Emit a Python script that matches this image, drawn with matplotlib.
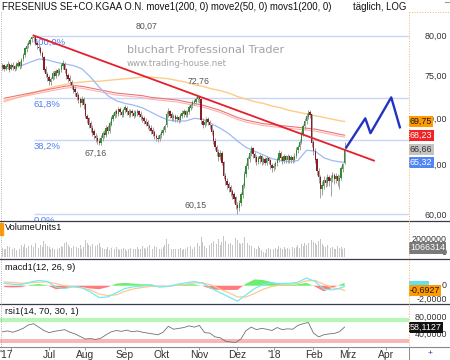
import matplotlib
matplotlib.use('Agg')
import matplotlib.pyplot as plt
import matplotlib.patheffects as pe
from matplotlib.lines import Line2D
from matplotlib.patches import Rectangle
from matplotlib.transforms import blended_transform_factory, ScaledTranslation
import numpy as np
import pandas as pd

plt.rcParams['font.family'] = ['Liberation Sans', 'DejaVu Sans']

# ---------------- data ----------------
first_day = '2017-05-25'

open_ = [
    76.0, 76.3, 75.9, 76.1, 76.4, 75.9, 76.3, 76.2, 75.9, 76.3,
    76.7, 76.2, 77.1, 77.6, 78.3, 78.8, 79.0, 79.6, 79.7, 79.8,
    79.1, 78.6, 78.4, 77.8, 77.3, 75.9, 75.2, 74.9, 74.3, 74.7,
    75.4, 75.0, 75.7, 75.3, 75.8, 76.2, 76.5, 75.8, 75.1, 74.8,
    74.3, 73.8, 73.5, 73.0, 72.7, 72.3, 71.9, 72.3, 71.7, 70.3,
    70.1, 69.5, 69.0, 68.6, 68.1, 67.9, 67.6, 67.4, 67.9, 68.4,
    68.2, 69.1, 68.7, 69.4, 70.0, 70.4, 70.9, 70.6, 71.1, 70.8,
    70.5, 71.0, 71.2, 70.9, 70.5, 70.9, 70.7, 70.4, 70.7, 70.9,
    70.6, 70.2, 70.1, 69.8, 69.6, 69.2, 69.0, 68.8, 68.5, 68.1,
    67.9, 67.8, 68.2, 68.5, 68.8, 69.3, 70.6, 70.9, 70.5, 70.1,
    70.3, 70.0, 70.2, 69.9, 70.4, 70.6, 70.9, 70.5, 70.8, 71.3,
    71.6, 71.9, 72.0, 72.3, 72.6, 72.3, 69.8, 69.4, 69.6, 70.0,
    69.7, 69.3, 68.7, 67.6, 66.9, 66.4, 65.9, 66.3, 65.3, 63.9,
    63.4, 63.0, 62.7, 62.3, 62.0, 61.7, 61.0, 60.7, 61.2, 62.0,
    62.9, 64.1, 64.9, 65.7, 66.3, 66.8, 66.2, 65.8, 65.4, 65.7,
    65.9, 65.4, 65.6, 65.3, 65.7, 65.5, 65.0, 64.7, 64.9, 65.2,
    65.6, 66.3, 65.8, 65.5, 65.9, 65.6, 65.9, 65.6, 65.8, 65.6,
    66.0, 66.6, 66.9, 67.5, 68.4, 69.2, 69.8, 70.3, 70.8, 70.5,
    67.4, 66.5, 65.6, 64.4, 63.8, 62.6, 62.9, 63.5, 63.2, 63.8,
    63.4, 63.7, 64.0, 63.6, 63.9, 63.4, 63.7, 64.6, 65.3,
]
high = [
    76.6, 76.5, 76.5, 76.8, 76.6, 76.6, 76.7, 76.4, 76.7, 77.0,
    76.9, 77.2, 77.9, 78.6, 79.1, 79.4, 79.8, 80.0, 80.07, 79.9,
    79.4, 79.0, 78.7, 78.1, 77.5, 76.2, 75.5, 75.1, 74.9, 75.6,
    75.7, 75.9, 76.0, 76.0, 76.6, 77.0, 76.7, 76.0, 75.4, 75.1,
    74.6, 74.1, 73.8, 73.3, 73.0, 72.6, 72.7, 72.5, 71.9, 70.6,
    70.3, 69.8, 69.3, 68.9, 68.5, 68.2, 67.9, 68.2, 68.7, 68.8,
    69.3, 69.4, 69.8, 70.4, 70.7, 71.1, 71.2, 71.4, 71.4, 71.1,
    71.3, 71.6, 71.5, 71.2, 71.2, 71.2, 71.0, 71.1, 71.2, 71.1,
    70.9, 70.5, 70.4, 70.1, 69.9, 69.5, 69.3, 69.1, 68.8, 68.4,
    68.2, 68.5, 68.8, 69.1, 69.5, 70.9, 71.3, 71.1, 70.8, 70.6,
    70.6, 70.5, 70.4, 70.7, 71.0, 71.2, 71.1, 71.1, 71.6, 71.9,
    72.2, 72.3, 72.5, 72.76, 72.7, 72.4, 70.1, 70.0, 70.3, 70.2,
    69.9, 69.5, 68.9, 67.9, 67.2, 66.7, 66.6, 66.5, 65.5, 64.2,
    63.7, 63.3, 63.0, 62.6, 62.3, 61.9, 61.3, 61.5, 62.3, 63.2,
    64.4, 65.2, 66.0, 66.6, 67.1, 67.0, 66.4, 66.1, 66.0, 66.2,
    66.1, 65.9, 65.9, 66.0, 65.9, 65.7, 65.2, 65.2, 65.5, 65.9,
    66.6, 66.5, 66.0, 66.2, 66.1, 66.2, 66.1, 66.1, 66.0, 66.3,
    66.9, 67.2, 67.8, 68.7, 69.5, 70.1, 70.7, 71.1, 71.0, 70.6,
    67.7, 66.8, 65.8, 64.7, 64.0, 63.4, 63.9, 63.8, 64.1, 64.0,
    64.0, 64.3, 64.2, 64.2, 64.1, 64.0, 64.9, 65.3, 67.5,
]
low = [
    75.7, 75.6, 75.7, 75.9, 75.5, 75.7, 75.8, 75.6, 75.7, 76.1,
    75.9, 76.0, 76.9, 77.4, 78.0, 78.5, 78.8, 79.3, 79.3, 78.8,
    78.4, 78.1, 77.6, 77.0, 75.5, 74.9, 74.4, 73.9, 74.0, 74.5,
    74.7, 74.8, 75.0, 75.1, 75.5, 75.9, 75.4, 74.7, 74.3, 74.0,
    73.5, 73.0, 72.7, 72.2, 71.9, 71.4, 71.6, 71.2, 70.1, 69.6,
    69.0, 68.6, 68.1, 67.8, 67.5, 67.3, 67.16, 67.2, 67.6, 67.9,
    68.0, 68.4, 68.5, 69.2, 69.8, 70.1, 70.3, 70.4, 70.5, 70.2,
    70.3, 70.7, 70.5, 70.2, 70.3, 70.4, 70.1, 70.2, 70.4, 70.2,
    69.9, 69.7, 69.5, 69.2, 68.9, 68.7, 68.4, 68.1, 67.8, 67.6,
    67.5, 67.6, 67.9, 68.2, 68.6, 69.1, 70.3, 70.1, 69.8, 69.8,
    69.7, 69.7, 69.6, 69.7, 70.1, 70.3, 70.2, 70.3, 70.6, 71.0,
    71.3, 71.6, 71.7, 72.0, 71.9, 69.5, 69.0, 69.1, 69.3, 69.3,
    68.9, 68.3, 67.3, 66.6, 66.0, 65.5, 65.6, 65.0, 63.6, 63.0,
    62.6, 62.3, 61.9, 61.6, 61.2, 60.6, 60.15, 60.4, 60.9, 61.7,
    62.7, 63.8, 64.6, 65.4, 66.0, 65.8, 65.4, 65.0, 65.1, 65.3,
    65.0, 65.1, 65.0, 65.0, 65.1, 64.6, 64.3, 64.4, 64.6, 64.9,
    65.4, 65.5, 65.1, 65.2, 65.3, 65.3, 65.3, 65.3, 65.3, 65.4,
    65.8, 66.3, 66.6, 67.3, 68.1, 68.9, 69.5, 70.0, 70.1, 67.0,
    66.1, 65.2, 64.0, 63.2, 61.7, 62.0, 62.6, 62.8, 62.9, 62.9,
    61.9, 63.3, 63.1, 63.2, 62.9, 62.6, 63.5, 64.3, 65.1,
]
close = [
    76.3, 75.9, 76.2, 76.4, 75.8, 76.3, 76.1, 75.9, 76.4, 76.6,
    76.2, 77.0, 77.6, 78.4, 78.7, 79.1, 79.5, 79.8, 79.9, 79.0,
    78.8, 78.5, 77.9, 77.4, 75.8, 75.3, 74.9, 74.4, 74.6, 75.3,
    75.0, 75.6, 75.4, 75.7, 76.3, 76.6, 75.7, 75.0, 74.7, 74.4,
    73.9, 73.4, 73.1, 72.6, 72.2, 71.9, 72.3, 71.6, 70.4, 70.0,
    69.4, 69.0, 68.5, 68.2, 67.9, 67.6, 67.4, 67.9, 68.4, 68.2,
    69.0, 68.7, 69.5, 70.1, 70.4, 70.8, 70.6, 71.1, 70.8, 70.5,
    71.0, 71.3, 70.8, 70.5, 70.9, 70.7, 70.4, 70.8, 70.9, 70.5,
    70.2, 70.0, 69.8, 69.5, 69.2, 69.0, 68.7, 68.4, 68.1, 67.9,
    67.8, 68.2, 68.5, 68.8, 69.2, 70.6, 70.9, 70.4, 70.1, 70.3,
    70.0, 70.2, 69.9, 70.4, 70.7, 70.9, 70.5, 70.8, 71.3, 71.6,
    71.9, 72.0, 72.3, 72.6, 72.3, 69.9, 69.4, 69.6, 70.0, 69.7,
    69.3, 68.6, 67.6, 66.9, 66.4, 65.9, 66.3, 65.3, 63.9, 63.4,
    63.0, 62.7, 62.3, 62.0, 61.6, 61.0, 60.7, 61.2, 62.0, 62.9,
    64.1, 64.9, 65.7, 66.3, 66.8, 66.2, 65.8, 65.4, 65.7, 65.9,
    65.4, 65.6, 65.3, 65.7, 65.5, 65.0, 64.7, 64.9, 65.2, 65.6,
    66.3, 65.8, 65.5, 65.9, 65.6, 65.9, 65.6, 65.8, 65.6, 66.0,
    66.6, 66.9, 67.5, 68.4, 69.2, 69.8, 70.3, 70.7, 70.5, 67.4,
    66.5, 65.6, 64.4, 63.8, 62.6, 62.9, 63.5, 63.2, 63.8, 63.4,
    63.7, 64.0, 63.6, 63.9, 63.4, 63.7, 64.7, 65.1, 66.66,
]
# volume in million shares
volume = [
    1.1, 0.9, 1.0, 1.3, 1.2, 0.9, 1.0, 1.1, 0.8, 1.2,
    1.0, 1.4, 1.2, 1.5, 1.1, 1.3, 2.2, 1.4, 1.2, 1.6,
    1.3, 1.1, 1.4, 1.2, 1.9, 1.5, 1.3, 1.2, 1.0, 1.1,
    0.9, 1.2, 1.0, 1.1, 1.3, 1.2, 1.6, 1.8, 1.4, 1.2,
    1.1, 1.3, 1.0, 1.2, 1.1, 1.4, 1.0, 1.2, 2.0, 1.6,
    1.4, 1.3, 1.5, 1.2, 1.3, 1.4, 1.6, 1.2, 1.1, 0.9,
    1.0, 1.2, 0.8, 1.1, 1.0, 0.9, 1.2, 1.0, 0.8, 0.9,
    1.1, 1.0, 0.7, 0.9, 1.1, 0.8, 1.0, 0.9, 1.2, 1.0,
    0.9, 1.3, 1.1, 1.0, 1.2, 1.4, 1.1, 1.0, 1.3, 1.2,
    1.1, 1.0, 0.9, 1.2, 1.4, 2.1, 1.5, 1.1, 1.0, 0.9,
    1.0, 0.8, 0.9, 1.1, 0.8, 1.0, 0.9, 1.2, 1.1, 1.3,
    1.0, 1.2, 1.4, 1.6, 1.3, 2.4, 1.8, 1.3, 1.1, 1.2,
    1.4, 1.6, 1.9, 1.7, 1.5, 2.1, 1.4, 1.8, 2.5, 1.9,
    1.7, 1.5, 1.6, 1.4, 1.8, 2.2, 2.0, 1.6, 1.5, 1.7,
    2.3, 1.9, 1.6, 1.4, 1.3, 1.2, 1.1, 1.0, 1.3, 1.1,
    0.8, 0.6, 0.5, 0.9, 1.1, 1.0, 1.2, 0.9, 1.1, 1.0,
    1.3, 1.1, 1.0, 1.2, 0.9, 1.1, 1.0, 0.9, 1.2, 1.1,
    1.2, 1.4, 1.1, 1.5, 1.3, 1.6, 1.4, 1.7, 2.3, 2.0,
    1.8, 1.6, 1.4, 1.9, 2.1, 1.5, 1.3, 1.2, 1.4, 1.0,
    1.1, 1.2, 0.9, 1.0, 1.3, 1.1, 1.2, 0.9, 1.066314,
]

# weekly readings (Fridays) plus the last trading day
knot_days = list(pd.date_range('2017-05-26', '2018-02-23', freq='W-FRI')) + [pd.Timestamp('2018-02-27')]
movs1 = [72.0, 72.3, 72.6, 72.9, 73.2, 73.5, 73.8, 74.0, 74.2, 74.3,
         74.4, 74.4, 74.5, 74.6, 74.7, 74.8, 74.9, 74.9, 74.8, 74.7,
         74.5, 74.3, 74.0, 73.8, 73.5, 73.3, 73.0, 72.6, 72.3, 72.0,
         71.8, 71.5, 71.3, 71.0, 70.8, 70.6, 70.4, 70.2, 70.0, 69.8, 69.75]
move1 = [72.4, 72.6, 72.8, 73.0, 73.2, 73.4, 73.6, 73.8, 73.9, 73.8,
         73.6, 73.4, 73.2, 73.0, 72.9, 72.8, 72.7, 72.5, 72.4, 72.3,
         72.2, 72.0, 71.8, 71.6, 71.3, 71.0, 70.6, 70.2, 69.9, 69.7,
         69.5, 69.4, 69.3, 69.2, 69.1, 69.0, 68.9, 68.7, 68.5, 68.3, 68.23]
move2 = [75.9, 76.1, 76.3, 76.7, 77.1, 77.0, 76.7, 76.5, 76.3, 75.9,
         74.9, 73.7, 72.7, 72.1, 71.8, 71.6, 71.3, 70.8, 70.3, 69.9,
         69.8, 69.8, 70.1, 70.0, 69.5, 69.0, 68.4, 67.6, 66.9, 66.5,
         66.1, 65.7, 65.5, 65.4, 65.5, 66.6, 66.5, 65.8, 65.5, 65.35, 65.32]
macd = [0.35, 0.2, 0.15, 0.5, 0.75, 0.6, -0.2, -0.4, -0.15, -0.3,
        -0.9, -1.7, -1.6, -1.0, -0.4, -0.15, -0.05, 0.1, -0.2, -0.1,
        0.2, 0.4, 0.6, 0.35, -0.4, -1.0, -1.6, -2.2, -1.3, -0.4,
        0.2, 0.4, 0.3, 0.35, 0.5, 1.1, 0.6, -0.5, -0.6, -0.3, -0.1]
signal = [0.55, 0.45, 0.35, 0.4, 0.5, 0.55, 0.3, 0.0, -0.15, -0.3,
          -0.6, -1.2, -1.4, -1.3, -0.8, -0.45, -0.25, -0.1, -0.1, -0.1,
          0.05, 0.2, 0.4, 0.4, 0.1, -0.5, -1.0, -1.6, -1.6, -1.1,
          -0.5, -0.1, 0.1, 0.2, 0.3, 0.7, 0.75, 0.2, -0.3, -0.5, -0.6927]
hist = [-0.2, -0.25, -0.2, 0.1, 0.25, 0.05, -0.5, -0.4, -0.1, -0.2,
        -0.4, -0.5, -0.2, 0.3, 0.4, 0.3, 0.2, 0.2, -0.1, 0.0,
        0.15, 0.2, 0.2, -0.05, -0.5, -0.6, -0.6, -0.6, 0.3, 0.9,
        0.8, 0.5, 0.2, 0.15, 0.2, 0.4, -0.15, -0.8, -0.3, 0.2, 0.4]
# RSI every third trading day
rsi = [47, 49, 46, 50, 55, 63, 66, 58, 50, 45,
       48, 50, 52, 46, 42, 36, 30, 31, 29, 32,
       40, 47, 50, 48, 51, 47, 49, 46, 44, 42,
       40, 46, 60, 53, 55, 57, 61, 58, 62, 45,
       44, 35, 33, 25, 23, 22, 30, 50, 58, 52,
       55, 53, 50, 57, 52, 54, 53, 62, 66, 69,
       44, 35, 40, 42, 43, 47, 58.1127]

trend_days = ['2017-06-20', '2018-03-22']
trend_vals = [80.07, 65.5]
forecast_days = ['2018-02-28', '2018-03-15', '2018-03-20', '2018-04-05', '2018-04-12']
forecast_vals = [66.9, 70.1, 68.45, 72.5, 69.1]

fib_high, fib_low = 80.07, 60.15
fib_ratios = [1.0, 0.618, 0.382, 0.0]
fib_labels = ['100,0%', '61,8%', '38,2%', '0,0%']
extremes = [('80,07', 80.07), ('72,76', 72.76), ('67,16', 67.16), ('60,15', 60.15)]
month_labels = ["'17", 'Jul', 'Aug', 'Sep', 'Okt', 'Nov', 'Dez', "'18", 'Feb', 'Mrz', 'Apr']

# ---------------- layout ----------------
W, H = 450, 360
cal = pd.bdate_range(first_day, '2018-04-30')


def pos(days):
    return cal.get_indexer(pd.DatetimeIndex(days))


def fx(px):
    return px / W


def fy(py):
    return 1 - py / H


def rect(y0, y1, x0=0.0, x1=408.5):
    return [fx(x0), fy(y1), fx(x1 - x0), (y1 - y0) / H]


def num(v, d=2):
    return f'{v:.{d}f}'.replace('.', ',')


fig = plt.figure(figsize=(W / 100, H / 100), dpi=100)
ax_p = fig.add_axes(rect(12, 221))
ax_v = fig.add_axes(rect(221, 259), sharex=ax_p)
ax_m = fig.add_axes(rect(259, 304), sharex=ax_p)
ax_r = fig.add_axes(rect(304, 347), sharex=ax_p)
for ax in (ax_p, ax_v, ax_m, ax_r):
    for s in ax.spines.values():
        s.set_visible(False)
    ax.tick_params(left=False, labelleft=False, bottom=False, labelbottom=False)
    ax.set_facecolor('white')

x = np.arange(len(close))
o, h, l, c = map(np.array, (open_, high, low, close))
xk = pos(knot_days)

# ---- price panel ----
ax_p.set_yscale('log')
ax_p.set_ylim(59.45, 83.15)
ax_p.yaxis.set_minor_locator(matplotlib.ticker.NullLocator())

x_hi = int(np.argmax(h))
below = ax_p.transData + ScaledTranslation(0, -2.5 / 100, fig.dpi_scale_trans)
for r, lab in zip(fib_ratios, fib_labels):
    lev = fib_low + r * (fib_high - fib_low)
    ax_p.hlines(lev, x_hi, 235, color='#c9d6fa', lw=1.0, zorder=1)
    ax_p.text(x_hi, lev, lab, transform=below, ha='left', va='top', fontsize=6.8,
              color='#4f7cf0', zorder=2, clip_on=True)

ax_p.plot(xk, movs1, color='#ffcb88', lw=1.0, zorder=2)
ax_p.plot(xk, move1, color='#f07272', lw=0.8, zorder=2,
          path_effects=[pe.SimpleLineShadow(offset=(0, -1.4), shadow_color='#ffb0b0', alpha=1.0),
                        pe.Normal()])
ax_p.plot(xk, move2, color='#9dbaf5', lw=0.9, zorder=2)

up = c >= o
ax_p.vlines(x, l, h, color='#a0a0a0', lw=0.7, zorder=3)
ax_p.bar(x[up], (c - o)[up] + 0.04, bottom=o[up], width=0.75, color='#2f8f2f', zorder=4)
ax_p.bar(x[~up], (o - c)[~up] + 0.04, bottom=c[~up], width=0.75, color='#8c1c24', zorder=4)

ax_p.plot(pos(trend_days), trend_vals, color='#e3202b', lw=1.3, zorder=5)
ax_p.plot(pos(forecast_days), forecast_vals, color='#2233c4', lw=1.7, zorder=5)

offsets = [(x_hi, (113, 9)), (int(np.argmax(h[100:130])) + 100, (1, 14)),
           (int(np.argmin(l[40:80])) + 40, (-4, -8)), (int(np.argmin(l)), (-42, 8))]
for (lab, v), (xi, off) in zip(extremes, offsets):
    ax_p.annotate(lab, (xi, v), xytext=off, textcoords='offset pixels',
                  ha='center', va='center', fontsize=6.3, color='#555555', zorder=6)

fig.text(fx(127), fy(50), 'bluchart Professional Trader', family='DejaVu Sans',
         fontsize=8.1, color='#a3a3a3', va='center', ha='left')
fig.text(fx(127), fy(63), 'www.trading-house.net', family='DejaVu Sans',
         fontsize=6.2, color='#a3a3a3', va='center', ha='left')

# ---- volume ----
ax_v.bar(x, volume, width=0.5, color='#c6c6c6')
ax_v.set_ylim(-0.235, 4.235)

# ---- macd ----
hist_a = np.array(hist)
ax_m.fill_between(xk, 0, hist_a, where=hist_a >= 0, interpolate=True, color='#6cee6c', lw=0)
ax_m.fill_between(xk, 0, hist_a, where=hist_a <= 0, interpolate=True, color='#ff7b7b', lw=0)
ax_m.plot(xk, signal, color='#ffc890', lw=0.9)
ax_m.plot(xk, macd, color='#70ecf2', lw=0.9)
ax_m.set_ylim(-2.61, 3.81)

# ---- rsi ----
ax_r.axhspan(70, 80, color='#b4f7b4', lw=0)
ax_r.axhspan(20, 30, color='#f9b6b6', lw=0)
ax_r.plot(x[::3], rsi, color='#707070', lw=0.6)
ax_r.set_ylim(11.2, 112.4)

month_pos = cal.searchsorted(pd.date_range('2017-06-01', '2018-04-01', freq='MS'))
ax_r.set_xticks(month_pos)
ax_r.set_xticklabels(month_labels)
ax_r.tick_params(axis='x', bottom=True, labelbottom=True, length=2, width=0.6,
                 color='#888888', labelsize=7.4, labelcolor='#333333', pad=0.5)
first_lab = ax_r.get_xticklabels()[0]
first_lab.set_transform(first_lab.get_transform() + ScaledTranslation(-4.5 / 100, 0, fig.dpi_scale_trans))
ax_p.set_xlim(-1.4, 235)

# ---- right-hand scale texts ----
xr = 447 / 408.5
xb = 410 / 408.5


def right_labels(ax, vals, texts):
    tr = blended_transform_factory(ax.transAxes, ax.transData)
    for v, t in zip(vals, texts):
        ax.text(xr, v, t, transform=tr, ha='right', va='center', fontsize=6.4,
                color='#333333', clip_on=False)


def value_box(ax, v, t, fc, tc):
    tr = blended_transform_factory(ax.transAxes, ax.transData)
    ax.text(xb, v, t, transform=tr, ha='left', va='center', fontsize=6.4, color=tc,
            clip_on=False, zorder=10,
            bbox=dict(boxstyle='square,pad=0.12', fc=fc, ec='none'))


right_labels(ax_p, [80, 75, 70, 65, 60], [num(v) for v in [80, 75, 70, 65, 60]])
value_box(ax_p, movs1[-1], num(movs1[-1]), '#ff9a00', '#1a1a1a')
value_box(ax_p, move1[-1], num(move1[-1]), '#f42323', 'white')
value_box(ax_p, close[-1], num(close[-1]), '#c4c4c4', '#333333')
value_box(ax_p, move2[-1], num(move2[-1]), '#4f86f7', 'white')

tr_v = blended_transform_factory(ax_v.transAxes, ax_v.transData)
ax_v.text(xr, 2.0, '2000000', transform=tr_v, ha='right', va='center', fontsize=6.4,
          color='#333333', clip_on=False)
ax_v.text(xr, 0, '0', transform=tr_v, ha='right', va='bottom', fontsize=6.4,
          color='#333333', clip_on=False)
value_box(ax_v, volume[-1], f'{round(volume[-1] * 1e6)}', '#7a7a7a', 'white')

right_labels(ax_m, [0, -2], ['0', num(-2, 4)])
value_box(ax_m, macd[-1], '       ', '#62e2ea', '#62e2ea')
value_box(ax_m, signal[-1], num(signal[-1], 4), '#ff9a00', '#1a1a1a')

right_labels(ax_r, [80, 40], [num(80, 4), num(40, 4)])
value_box(ax_r, rsi[-1], num(rsi[-1], 4), '#111111', 'white')

# ---- titles and frame ----
fig.text(fx(2), fy(6.5), 'FRESENIUS SE+CO.KGAA O.N. move1(200, 0) move2(50, 0) movs1(200, 0)',
         fontsize=6.9, color='#111111', va='center', ha='left')
fig.text(fx(353), fy(6.5), 'täglich, LOG', fontsize=6.9, color='#111111', va='center', ha='left')
fig.text(fx(5), fy(227), 'VolumeUnits1', fontsize=6.7, color='#111111', va='center')
fig.text(fx(5), fy(267), 'macd1(12, 26, 9)', fontsize=6.7, color='#111111', va='center')
fig.text(fx(5), fy(312), 'rsi1(14, 70, 30, 1)', fontsize=6.7, color='#111111', va='center')

for yy in (221, 259, 304):
    fig.add_artist(Line2D([0, 1], [fy(yy)] * 2, color='#3a3a48', lw=0.9))
fig.add_artist(Line2D([0, 1], [fy(347)] * 2, color='#8a8a8a', lw=0.8))
fig.add_artist(Line2D([fx(408.5)] * 2, [fy(12), fy(347)], color='#f0b45a', lw=0.7, ls=':'))
fig.add_artist(Line2D([fx(408.5), 1], [fy(12)] * 2, color='#f0b45a', lw=0.7, ls=':'))
fig.add_artist(Line2D([fx(408.5)] * 2, [fy(347), 0], color='#8a8a8a', lw=0.7))
fig.add_artist(Line2D([fx(0.8)] * 2, [fy(12), fy(347)], color='#9a9a9a', lw=0.6, ls=':'))
fig.add_artist(Line2D([fx(445), 1], [fy(2)] * 2, color='#9a9a9a', lw=0.8))
fig.add_artist(Rectangle((0, fy(235)), fx(2.5), 12 / H, color='#ff9a00', transform=fig.transFigure))
fig.text(fx(430), fy(353), '+', fontsize=6, color='#2233c4', ha='center', va='center')

fig.savefig('out.png', dpi=100)
